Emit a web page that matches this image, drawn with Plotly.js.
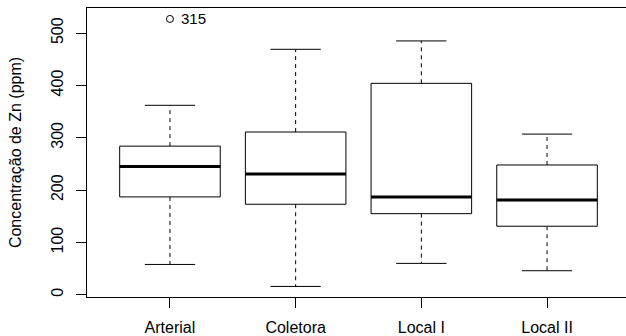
<!DOCTYPE html>
<html><head><meta charset="utf-8">
<script src="https://cdn.plot.ly/plotly-3.0.1.min.js"></script>
<style>html,body{margin:0;padding:0;overflow:hidden;background:#fff}</style>
</head><body><div id="chart"></div>
<script>
const categories = ["Arterial", "Coletora", "Local I", "Local II"];
const lowerWhisker = [58, 16, 60, 46];
const q1 = [187, 173, 155, 131];
const median = [245, 231, 187, 181];
const q3 = [284, 311, 404, 248];
const upperWhisker = [362, 469, 485, 307];
const outlierGroup = ["Arterial"];
const outlierValue = [527];
const outlierLabel = ["315"];
const yTicks = [0, 100, 200, 300, 400, 500];

const BOX_HALF = 0.4, CAP_HALF = 0.2;
const FONT = "Liberation Sans, Arial, Helvetica, sans-serif";

const rx = [], ry = [], mx = [], my = [], wx = [], wy = [], cx = [], cy = [];
categories.forEach((c, i) => {
  const p = i + 1;
  rx.push(p - BOX_HALF, p + BOX_HALF, p + BOX_HALF, p - BOX_HALF, p - BOX_HALF, null);
  ry.push(q1[i], q1[i], q3[i], q3[i], q1[i], null);
  mx.push(p - BOX_HALF, p + BOX_HALF, null);
  my.push(median[i], median[i], null);
  wx.push(p, p, null, p, p, null);
  wy.push(q3[i], upperWhisker[i], null, q1[i], lowerWhisker[i], null);
  cx.push(p - CAP_HALF, p + CAP_HALF, null, p - CAP_HALF, p + CAP_HALF, null);
  cy.push(upperWhisker[i], upperWhisker[i], null, lowerWhisker[i], lowerWhisker[i], null);
});
const ox = outlierGroup.map(g => categories.indexOf(g) + 1);

const line = (x, y, w, dash) => ({
  x, y, type: "scatter", mode: "lines", hoverinfo: "skip", showlegend: false,
  line: { color: "#000", width: w, dash: dash || "solid" }
});

const traces = [
  line(wx, wy, 1, "4px,4px"),
  line(cx, cy, 1),
  { x: rx, y: ry, type: "scatter", mode: "lines", fill: "toself", fillcolor: "#fff",
    hoverinfo: "skip", showlegend: false, line: { color: "#000", width: 1 } },
  line(mx, my, 3),
  { x: ox, y: outlierValue, type: "scatter", mode: "markers", showlegend: false,
    marker: { symbol: "circle-open", size: 7, color: "#000", line: { width: 1, color: "#000" } } }
];

const annotations = ox.map((x, i) => ({
  x, y: outlierValue[i], xref: "x", yref: "y", text: outlierLabel[i],
  showarrow: false, xanchor: "left", yanchor: "middle", xshift: 9,
  font: { family: FONT, size: 15, color: "#000" }
}));

const layout = {
  width: 630, height: 336,
  margin: { l: 87, r: 0, t: 8, b: 39 },
  paper_bgcolor: "#fff", plot_bgcolor: "#fff",
  font: { family: FONT, size: 16, color: "#000" },
  xaxis: {
    range: [0.34, 4.66], tickmode: "array", tickvals: categories.map((c, i) => i + 1), ticktext: categories,
    ticks: "outside", ticklen: 10, tickcolor: "#000", tickwidth: 1, ticklabelstandoff: 6,
    showline: true, mirror: true, linecolor: "#000", linewidth: 1,
    showgrid: false, zeroline: false, tickfont: { size: 16 }
  },
  yaxis: {
    range: [-4.2, 547.9], tickmode: "array", tickvals: yTicks, tickangle: -90,
    ticks: "outside", ticklen: 10, tickcolor: "#000", tickwidth: 1, ticklabelstandoff: 7,
    showline: true, mirror: true, linecolor: "#000", linewidth: 1,
    showgrid: false, zeroline: false, tickfont: { size: 16 },
    title: { text: "Concentração de Zn (ppm)", font: { size: 16 }, standoff: 22 }
  },
  annotations
};

Plotly.newPlot("chart", traces, layout, { staticPlot: true, displayModeBar: false });
</script>
</body></html>
